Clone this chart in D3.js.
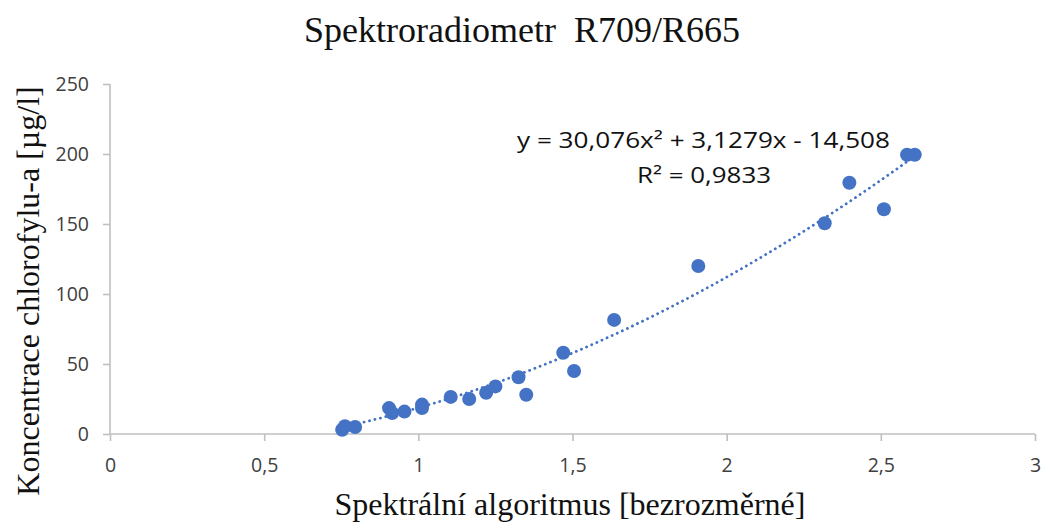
<!DOCTYPE html>
<html><head><meta charset="utf-8">
<script src="https://cdn.jsdelivr.net/npm/d3@7"></script>
<style>body{margin:0;background:#fff}svg{display:block}</style>
</head><body>
<svg id="c" width="1043" height="522"></svg>
<script>
const xValues = [0.753,0.762,0.795,0.905,0.915,0.955,1.012,1.012,1.105,1.165,1.22,1.25,1.325,1.35,1.47,1.505,1.635,1.908,2.318,2.398,2.51,2.585,2.61];
const yValues = [3,5.5,5,18.5,15,16,21,18.5,26.5,25,29.5,34,40.5,28,58,45,81.5,120,150.5,179.5,160.5,199.5,199.5];
const xTicks = [0,0.5,1,1.5,2,2.5,3];
const yTicks = [0,50,100,150,200,250];
const coef = [30.076, 3.1279, -14.508];
const title = "Spektroradiometr  R709/R665";
const xTitle = "Spektrální algoritmus [bezrozměrné]";
const yTitle = "Koncentrace chlorofylu-a [µg/l]";
const eqText = "y = 30,076x² + 3,1279x - 14,508";
const r2Text = "R² = 0,9833";

const svg = d3.select("#c");
const x = d3.scaleLinear().domain([0,3]).range([110,1035]);
const y = d3.scaleLinear().domain([0,250]).range([434,84]);
const fmt = d => String(d).replace(".", ",");
const col = "#4472C4", axCol = "#bfbfbf";

const gx = svg.append("g").attr("transform","translate(0,434)")
  .call(d3.axisBottom(x).tickValues(xTicks).tickFormat(fmt).tickSize(7).tickPadding(17));
const gy = svg.append("g").attr("transform","translate(110,0)")
  .call(d3.axisLeft(y).tickValues(yTicks).tickFormat(fmt).tickSize(7).tickPadding(14));
[gx,gy].forEach(g=>{
  g.selectAll("path,line").attr("stroke",axCol).attr("stroke-width",1.6);
  g.select(".domain").attr("d", g===gx ? "M110,0H1035" : "M0,84V434");
  g.selectAll("text").attr("fill","#404040").style("font-family","'Open Sans', 'Liberation Sans', sans-serif").style("font-size","19.5px");
});

// trendline
const xs = d3.extent(xValues);
const pts = d3.range(0,101).map(i => { const v = xs[0] + (xs[1]-xs[0])*i/100; return [v, coef[0]*v*v + coef[1]*v + coef[2]]; });
svg.append("path").datum(pts)
  .attr("d", d3.line().x(d=>x(d[0])).y(d=>y(d[1])))
  .attr("fill","none").attr("stroke",col).attr("stroke-width",2.8)
  .attr("stroke-dasharray","0.1,5.5").attr("stroke-linecap","round");

svg.append("g").selectAll("circle").data(xValues).join("circle")
  .attr("cx",d=>x(d)).attr("cy",(d,i)=>y(yValues[i])).attr("r",7).attr("fill",col);

svg.append("text").attr("x",522).attr("y",42).attr("text-anchor","middle").style("white-space","pre")
  .style("font-family","'Liberation Serif', serif").style("font-size","36px").attr("fill","#111").text(title);
svg.append("text").attr("x",570).attr("y",515).attr("text-anchor","middle")
  .style("font-family","'Liberation Serif', serif").style("font-size","32px").attr("fill","#111").text(xTitle);
svg.append("text").attr("transform","translate(39,291) rotate(-90)").attr("text-anchor","middle")
  .style("font-family","'Liberation Serif', serif").style("font-size","32px").attr("fill","#111").text(yTitle);

svg.append("text").attr("x",517).attr("y",148).attr("textLength",373).attr("lengthAdjust","spacingAndGlyphs")
  .style("font-family","'Open Sans', sans-serif").style("font-size","21px").attr("fill","#111").text(eqText);
svg.append("text").attr("x",637).attr("y",183).attr("textLength",134).attr("lengthAdjust","spacingAndGlyphs")
  .style("font-family","'Open Sans', sans-serif").style("font-size","21px").attr("fill","#111").text(r2Text);
</script>
</body></html>
